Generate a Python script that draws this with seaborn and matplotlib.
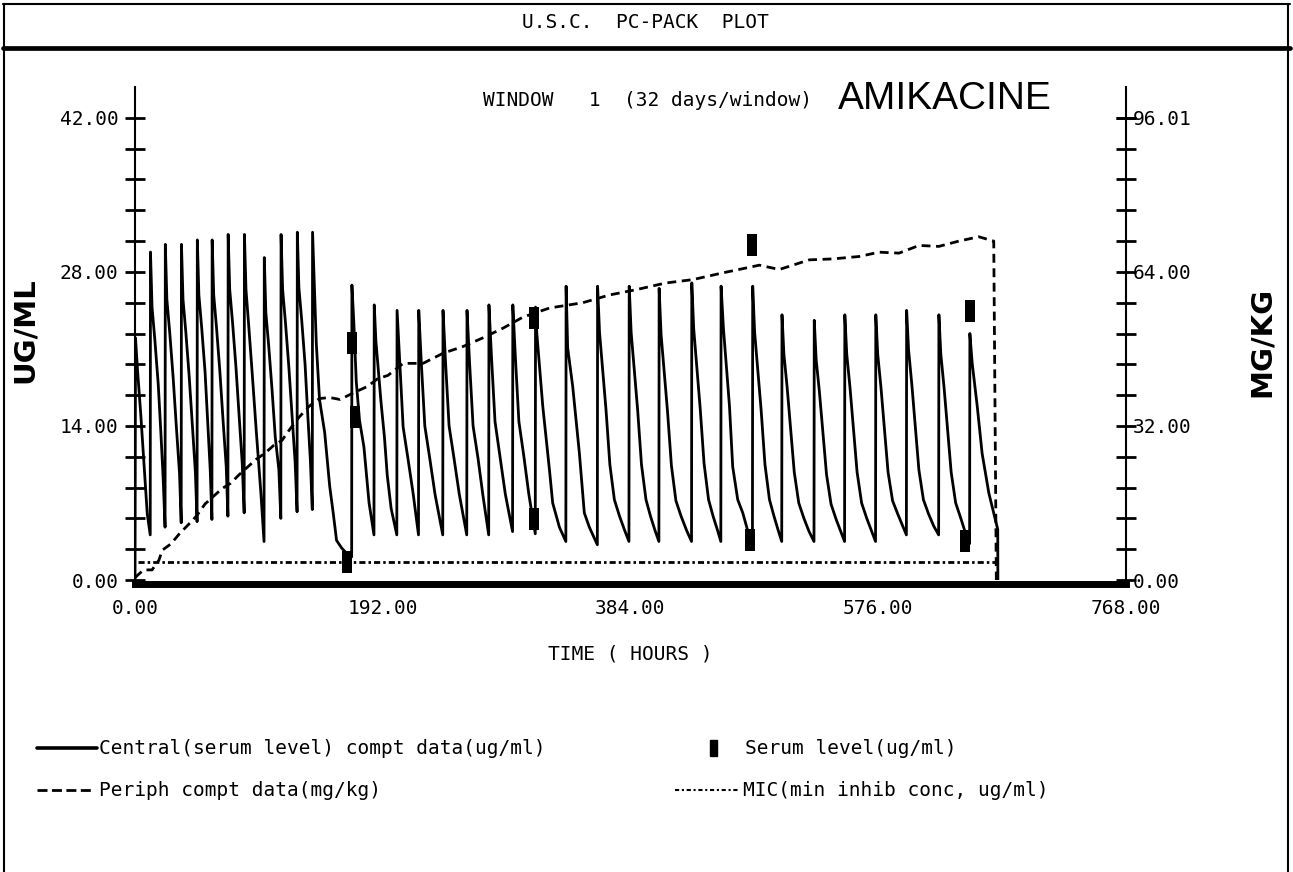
import matplotlib
matplotlib.use("Agg")
import matplotlib.pyplot as plt
import seaborn as sns
from matplotlib import font_manager
from matplotlib.lines import Line2D

# ---------------- data ----------------
# central compartment (serum level), ug/ml  -- hours / value pairs, one line per dose
central_t = [
    0.0, 0.4, 2.0, 4.5, 7.0, 9.5, 11.8,
    12.0, 13.2, 15.4, 18.0, 20.0, 21.8, 23.3,
    23.5, 24.7, 26.9, 29.5, 32.0, 34.5, 35.8,
    36.0, 37.2, 39.4, 42.0, 44.5, 46.8, 48.1,
    48.3, 49.5, 51.7, 54.3, 56.3, 58.3, 59.6,
    59.8, 61.0, 63.2, 65.8, 68.3, 70.7, 72.0,
    72.2, 73.4, 75.6, 78.2, 80.7, 83.1, 84.6,
    84.8, 86.0, 88.2, 91.0, 94.0, 97.5, 100.0,
    100.2, 101.4, 103.6, 106.2, 108.7, 111.5, 113.0,
    113.2, 114.4, 116.6, 119.2, 121.7, 124.1, 125.6,
    125.8, 127.0, 129.2, 131.8, 133.8, 135.9, 137.4,
    137.6, 139.0, 140.5, 143.0, 147.0, 150.9, 153.6, 156.2, 160.2, 164.2, 167.9,
    168.1, 169.5, 171.5, 174.0, 177.4, 181.4, 185.2,
    185.4, 186.7, 190.7, 193.3, 195.5, 198.5, 202.9,
    203.1, 205.2, 207.8, 211.7, 215.5, 219.7,
    219.9, 221.9, 224.6, 228.5, 232.5, 238.5,
    238.7, 240.7, 243.4, 247.3, 251.3, 257.1,
    257.3, 259.3, 262.0, 265.9, 269.5, 274.1,
    274.3, 276.3, 279.0, 282.9, 287.0, 292.6,
    292.8, 294.8, 297.5, 301.4, 305.2, 310.2,
    310.4, 311.4, 316.0, 321.2, 323.7, 328.9, 333.9,
    334.1, 335.3, 339.2, 344.4, 348.2, 352.1, 358.3,
    358.5, 360.0, 362.5, 365.0, 368.0, 371.5, 375.5, 379.5, 382.8,
    383.0, 384.5, 387.0, 389.5, 392.5, 396.0, 399.5, 403.0, 406.0,
    406.2, 407.7, 410.2, 412.7, 415.7, 419.2, 423.2, 427.5, 431.3,
    431.5, 433.0, 435.5, 438.0, 441.0, 444.5, 448.0, 451.5, 454.0,
    454.2, 456.0, 458.1, 460.7, 463.2, 467.1, 471.0, 474.8, 478.5,
    478.7, 480.2, 482.7, 485.2, 488.2, 491.7, 495.2, 498.5, 501.2,
    501.4, 502.9, 505.4, 507.9, 510.9, 514.4, 518.4, 522.4, 526.2,
    526.4, 527.9, 530.4, 532.9, 535.9, 539.4, 543.4, 547.0, 549.9,
    550.1, 551.6, 554.1, 556.6, 559.6, 563.1, 567.1, 571.0, 573.9,
    574.1, 575.6, 578.1, 580.6, 583.6, 587.1, 591.1, 595.0, 597.8,
    598.0, 599.5, 602.0, 604.5, 607.5, 611.0, 615.0, 619.0, 622.8,
    623.0, 624.5, 627.0, 629.5, 632.5, 636.0, 640.0, 643.5, 646.8,
    647.0, 648.8, 652.7, 656.5, 661.7, 665.5, 668.6, 668.7,
]
central_c = [
    0.0, 22.0, 19.0, 15.0, 10.5, 6.0, 4.1,
    29.8, 24.8, 21.8, 17.8, 13.5, 9.3, 4.8,
    30.5, 25.5, 22.5, 18.5, 14.0, 9.7, 5.2,
    30.5, 25.5, 22.5, 18.5, 14.0, 9.8, 5.3,
    30.9, 25.9, 22.9, 18.9, 14.5, 10.0, 5.5,
    30.9, 25.9, 22.9, 18.9, 14.4, 10.3, 5.8,
    31.4, 26.4, 23.4, 19.4, 14.9, 10.6, 6.1,
    31.4, 26.4, 23.0, 18.5, 13.5, 8.0, 3.5,
    29.3, 24.3, 21.3, 17.3, 13.0, 10.0, 5.6,
    31.4, 26.4, 23.4, 19.4, 15.0, 10.7, 6.2,
    31.6, 26.6, 23.6, 19.6, 15.2, 10.9, 6.4,
    31.6, 26.7, 21.5, 16.4, 13.4, 8.5, 6.1, 3.6, 2.9, 2.4, 2.1,
    26.8, 23.6, 18.0, 14.5, 12.1, 7.0, 4.1,
    25.0, 21.7, 16.1, 13.0, 9.5, 6.5, 4.1,
    24.5, 19.7, 13.9, 10.9, 7.9, 4.1,
    24.5, 19.7, 14.0, 11.0, 7.8, 4.1,
    24.5, 19.7, 14.0, 11.0, 7.8, 4.1,
    24.5, 19.7, 14.0, 11.0, 7.8, 4.1,
    25.0, 20.2, 14.4, 11.2, 7.8, 4.4,
    25.0, 20.2, 14.4, 11.2, 7.8, 4.2,
    24.8, 22.4, 15.8, 10.0, 7.0, 4.8, 3.5,
    26.7, 21.1, 17.6, 11.5, 6.1, 4.8, 3.2,
    26.7, 22.5, 19.0, 15.5, 10.5, 7.3, 5.8, 4.5, 3.5,
    26.7, 22.5, 19.0, 15.5, 10.5, 7.3, 5.8, 4.5, 3.5,
    26.5, 22.3, 18.8, 15.3, 10.4, 7.2, 5.8, 4.5, 3.5,
    27.0, 22.8, 19.2, 15.6, 10.6, 7.3, 5.8, 4.5, 3.5,
    26.7, 22.9, 19.7, 15.8, 10.3, 7.3, 6.1, 4.5, 3.4,
    26.7, 22.5, 19.0, 15.5, 10.5, 7.3, 5.8, 4.5, 3.5,
    24.1, 20.5, 17.5, 14.0, 9.8, 7.0, 5.6, 4.4, 3.5,
    23.6, 20.0, 17.1, 13.7, 9.6, 6.9, 5.5, 4.4, 3.5,
    24.1, 20.5, 17.5, 14.0, 9.8, 7.0, 5.6, 4.4, 3.5,
    24.1, 20.5, 17.5, 14.0, 9.8, 7.2, 6.0, 4.9, 4.1,
    24.5, 20.9, 17.8, 14.3, 10.0, 7.3, 6.0, 4.9, 4.1,
    24.1, 20.5, 17.5, 14.0, 9.8, 7.0, 5.6, 4.3, 3.3,
    22.4, 19.7, 15.8, 11.5, 7.9, 6.1, 4.6, 0.0,
]

# peripheral compartment, mg/kg (right axis)
periph_t = [0.0, 6.6, 13.2, 18.5, 21.2, 27.8, 34.4, 41.0, 47.7, 54.3, 60.9, 67.5,
            74.1, 80.8, 87.4, 94.0, 100.6, 107.2, 113.9, 120.5, 127.1, 135.0, 143.0,
            150.9, 158.9, 169.5, 180.1, 188.0, 196.0, 207.8, 223.2, 238.7, 254.2,
            269.6, 285.1, 300.6, 321.2, 347.0, 367.6, 388.2, 411.4, 432.3, 455.5,
            483.9, 499.3, 522.5, 540.6, 561.2, 576.6, 592.1, 607.6, 623.0, 638.5,
            653.9, 665.5, 667.5]
periph_v = [0.5, 2.1, 2.1, 4.1, 6.2, 7.5, 9.6, 11.4, 13.3, 15.8, 17.4, 19.0,
            20.1, 21.9, 23.5, 25.1, 26.3, 27.9, 29.0, 31.5, 33.8, 36.1, 37.7,
            37.9, 37.5, 38.9, 40.2, 41.8, 42.5, 45.0, 45.0, 47.1, 48.5,
            50.3, 52.3, 54.6, 56.5, 57.6, 59.2, 60.3, 61.7, 62.4, 63.8,
            65.4, 64.5, 66.5, 66.7, 67.2, 68.1, 67.9, 69.5, 69.3, 70.4,
            71.3, 70.4, 0.0]

# measured serum levels, ug/ml
serum_t = [164.2, 168.1, 170.8, 309.6, 309.6, 476.6, 478.2, 643.6, 647.0]
serum_c = [1.6, 21.5, 14.8, 5.5, 23.8, 3.6, 30.4, 3.5, 24.4]

# MIC, ug/ml
mic_t = [2.6, 668.7]
mic_c = [1.65, 1.65]

# axis ticks / labels
x_major = [0, 192, 384, 576, 768]
x_labels = ["0.00", "192.00", "384.00", "576.00", "768.00"]
y_left_major = [0, 14, 28, 42]
y_left_labels = ["0.00", "14.00", "28.00", "42.00"]
y_right_major = [0, 32, 64, 96.01]
y_right_labels = ["0.00", "32.00", "64.00", "96.01"]

# ---------------- style ----------------
sns.set_style("white")
names = {f.name for f in font_manager.fontManager.ttflist}
if "Liberation Sans Narrow" in names:
    PIX, FS = "Liberation Sans Narrow", 21
else:
    PIX, FS = "DejaVu Sans Mono", 14
plt.rcParams["font.family"] = [PIX, "DejaVu Sans"]
plt.rcParams.update({
    "text.color": "black", "axes.labelcolor": "black",
    "xtick.color": "black", "ytick.color": "black",
    "axes.edgecolor": "black",
})

W, H = 1293, 872


def fx(px):
    return px / W


def fy(py):
    return 1 - py / H


fig = plt.figure(figsize=(W / 100, H / 100), dpi=100)
fig.patch.set_facecolor("white")

# outer frame and title bar
for xs, ys, lw in [([3, 1290], [4, 4], 1.5), ([4, 4], [4, 872], 1.5),
                   ([1288, 1288], [4, 872], 1.5), ([3, 1290], [48, 48], 3.4)]:
    fig.add_artist(Line2D([fx(x) for x in xs], [fy(y) for y in ys],
                          color="black", lw=lw, transform=fig.transFigure))
fig.text(fx(645), fy(23), "U.S.C.  PC-PACK  PLOT", ha="center", va="center",
         fontsize=FS, family=PIX)

# axes
YTOP = 44.8
ax = fig.add_axes([fx(135), fy(580), (1126 - 135) / W, (580 - 87) / H])
ax2 = ax.twinx()
ax.set_xlim(0, 768)
ax.set_ylim(0, YTOP)
ax2.set_ylim(0, YTOP * 96.01 / 42)

sns.lineplot(x=central_t, y=central_c, ax=ax, color="black", lw=2.0,
             sort=False, estimator=None)
sns.lineplot(x=mic_t, y=mic_c, ax=ax, color="black", lw=2.0,
             linestyle=(0, (2.2, 1.1, 0.9, 1.1)), sort=False, estimator=None)
sns.lineplot(x=periph_t, y=periph_v, ax=ax2, color="black", lw=2.0,
             linestyle=(0, (3.2, 2.0)), sort=False, estimator=None)
rect = [(-0.42, -1), (0.42, -1), (0.42, 1), (-0.42, 1), (-0.42, -1)]
sns.scatterplot(x=serum_t, y=serum_c, ax=ax, marker=rect, s=15.5 ** 2,
                color="black", edgecolor="black", linewidth=0, zorder=5)

for a in (ax, ax2):
    a.set_facecolor("none")
    a.grid(False)
    a.spines["top"].set_visible(False)
    for s in ("left", "right"):
        a.spines[s].set_linewidth(1.5)
ax2.spines["bottom"].set_visible(False)
ax.spines["right"].set_visible(False)
ax2.spines["left"].set_visible(False)
ax.spines["bottom"].set_linewidth(5)
ax.spines["bottom"].set_position(("outward", 3))

ax.set_xticks(x_major, x_labels)
ax.set_xticks(list(range(0, 769, 48)), minor=True)
ax.tick_params(axis="x", which="both", direction="out", length=11, width=1.5,
               pad=0, labelsize=FS)
ax.set_yticks(y_left_major, y_left_labels)
ax.set_yticks([i * 2.8 for i in range(16)], minor=True)
ax.tick_params(axis="y", which="both", direction="inout", length=14, width=2,
               pad=5, labelsize=FS)
ax2.set_yticks(y_right_major, y_right_labels)
ax2.set_yticks([i * 6.4 for i in range(16)], minor=True)
ax2.tick_params(axis="y", which="both", direction="inout", length=14, width=2,
                pad=-2, labelsize=FS)

ax.set_xlabel("TIME ( HOURS )", fontsize=FS)
ax.xaxis.set_label_coords(0.5, -0.13)
ax.set_ylabel("UG/ML", family="DejaVu Sans", weight="bold", fontsize=21)
ax.yaxis.label.set_va("center")
ax.yaxis.set_label_coords((25 - 135) / 991, (580 - 330) / 493)
ax2.set_ylabel("MG/KG", family="DejaVu Sans", weight="bold", fontsize=21,
               rotation=90)
ax2.yaxis.label.set_va("center")
ax2.yaxis.set_label_coords((1262 - 135) / 991, (580 - 342) / 493)

# header texts inside the plot area
fig.text(fx(483), fy(100), "WINDOW   1  (32 days/window)", ha="left",
         va="center", fontsize=FS, family=PIX)
fig.text(fx(838), fy(99), "AMIKACINE", ha="left", va="center", fontsize=28,
         family="Liberation Sans", color="black")

# legend (drawn in figure pixels like the original)
tr = fig.transFigure
fig.add_artist(Line2D([fx(37), fx(97)], [fy(748)] * 2, color="black", lw=2.6,
                      transform=tr))
fig.text(fx(99), fy(748), "Central(serum level) compt data(ug/ml)", va="center",
         fontsize=FS, family=PIX)
fig.add_artist(Line2D([fx(37), fx(94)], [fy(790)] * 2, color="black", lw=2.0,
                      linestyle=(0, (3.6, 1.6)), transform=tr))
fig.text(fx(99), fy(790), "Periph compt data(mg/kg)", va="center",
         fontsize=FS, family=PIX)
fig.add_artist(Line2D([fx(713)], [fy(748)], color="black", marker=rect,
                      markersize=12, linestyle="none", transform=tr))
fig.text(fx(745), fy(748), "Serum level(ug/ml)", va="center",
         fontsize=FS, family=PIX)
fig.add_artist(Line2D([fx(675), fx(740)], [fy(790)] * 2, color="black", lw=1.5,
                      linestyle=(0, (2.0, 1.3, 1.0, 1.3)), transform=tr))
fig.text(fx(743), fy(790), "MIC(min inhib conc, ug/ml)", va="center",
         fontsize=FS, family=PIX)

fig.savefig("out.png", dpi=100, facecolor="white")
